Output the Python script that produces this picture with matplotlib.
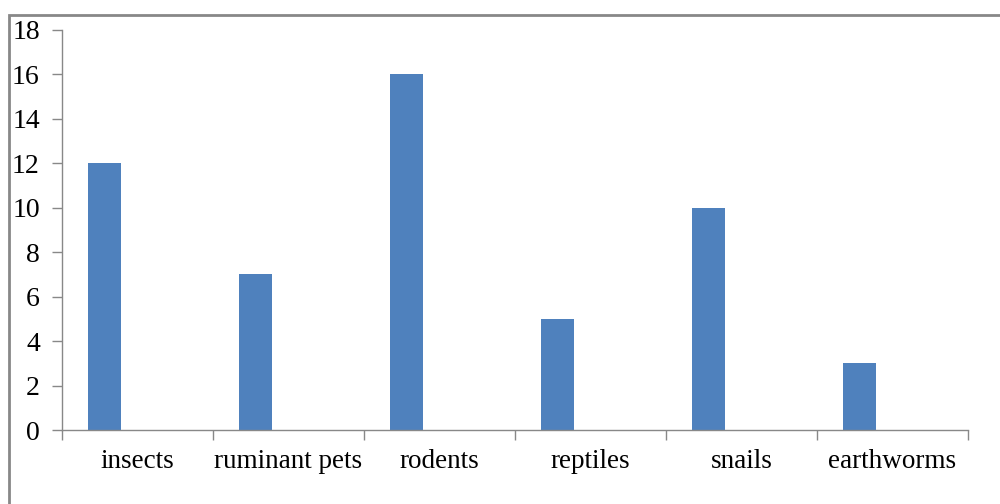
import numpy as np
import matplotlib.pyplot as plt
from matplotlib.patches import Rectangle

categories = ['insects', 'ruminant pets', 'rodents', 'reptiles', 'snails', 'earthworms']
values = [12, 7, 16, 5, 10, 3]

plt.rcParams['font.family'] = ['Liberation Serif', 'DejaVu Serif']

fig = plt.figure(figsize=(10, 5.04), dpi=100)
ax = fig.add_axes([0.062, 0.1468, 0.906, 0.7937])

x = np.arange(len(categories))
ax.bar(x - 0.22, values, width=0.22, color='#4f81bd')

ax.set_xlim(-0.5, len(categories) - 0.5)
ax.set_ylim(0, 18)
ax.set_yticks(range(0, 19, 2))
ax.set_xticks(x)
ax.set_xticklabels(categories, fontsize=19.5)
ax.set_xticks(np.arange(-0.5, len(categories), 1), minor=True)
ax.tick_params(axis='x', which='major', length=0, pad=14)
ax.tick_params(axis='x', which='minor', length=7, color='#888888', width=1)
ax.tick_params(axis='y', length=7, color='#888888', width=1, labelsize=20, pad=9)

for s in ['top', 'right']:
    ax.spines[s].set_visible(False)
for s in ['left', 'bottom']:
    ax.spines[s].set_color('#888888')
    ax.spines[s].set_linewidth(1)

# outer chart border
fig.patches.append(Rectangle((0.009, -0.1), 1.2, 1.07, transform=fig.transFigure,
                             fill=False, edgecolor='#888888', linewidth=2))

fig.savefig('out.png', dpi=100)
